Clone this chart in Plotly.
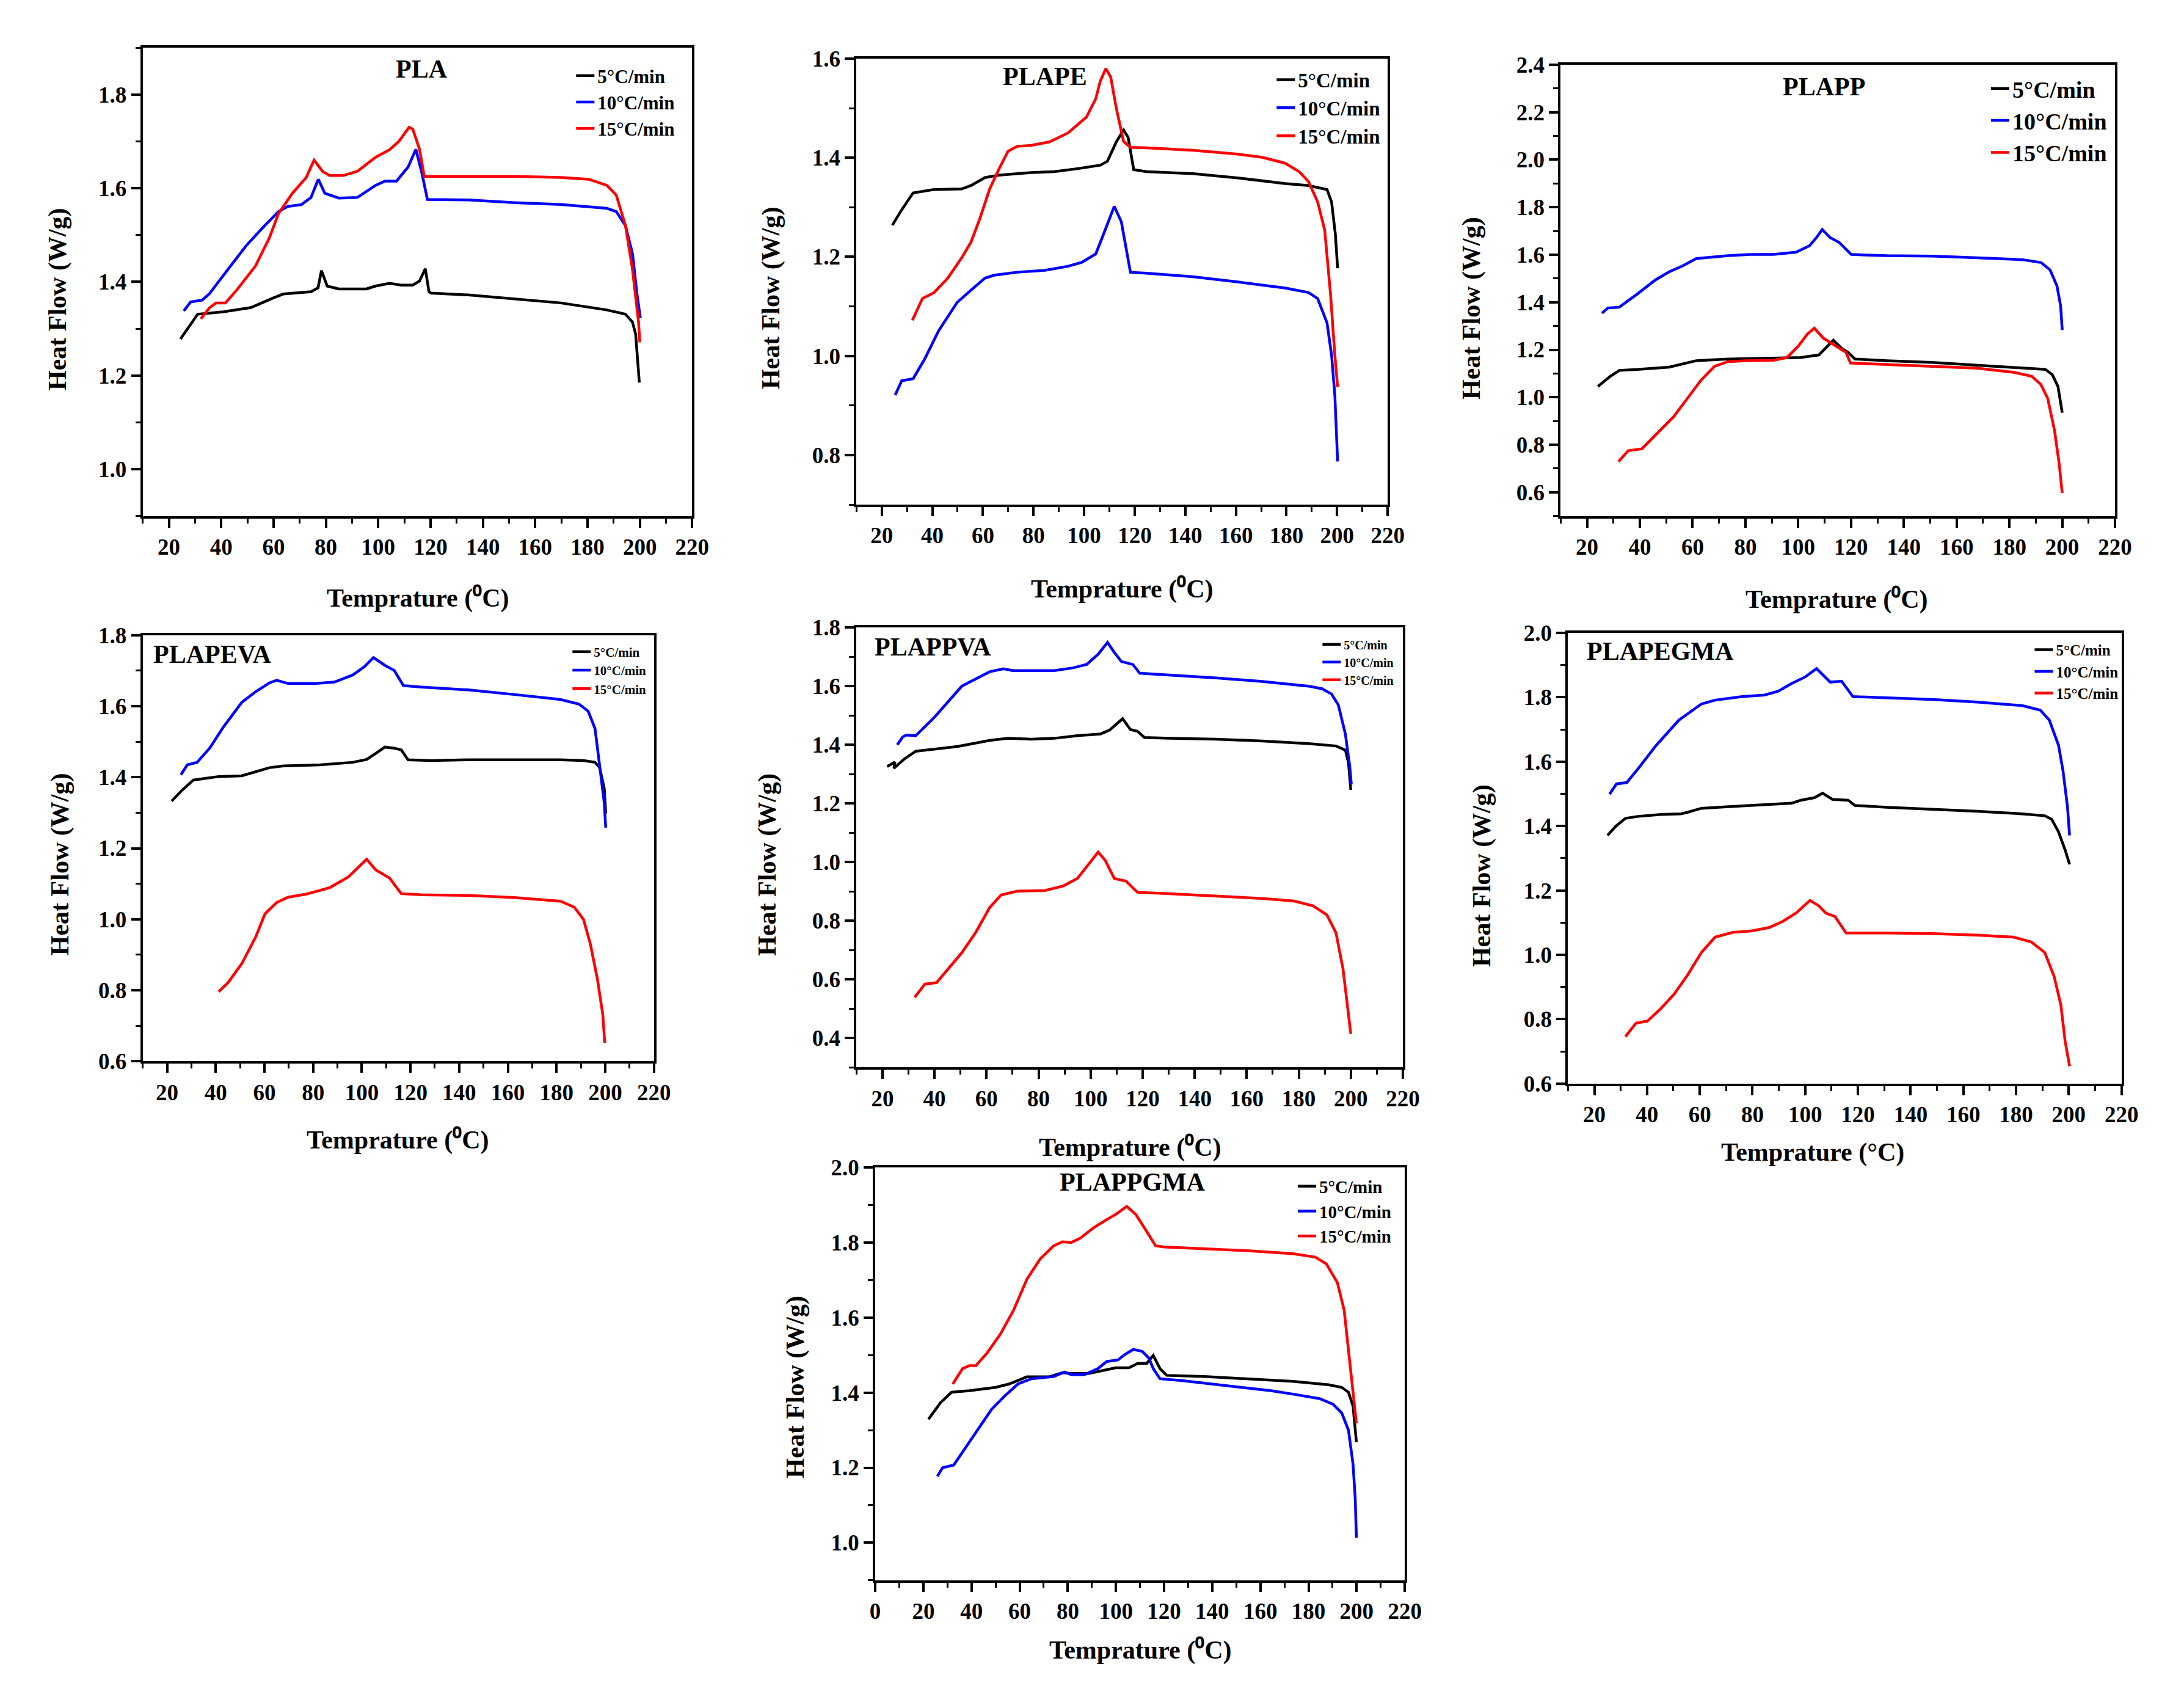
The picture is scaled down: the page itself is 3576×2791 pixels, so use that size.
import plotly.graph_objects as go

FONT = "Liberation Serif"
RATE_LABELS = ["5°C/min", "10°C/min", "15°C/min"]
COLORS = ["#000000", "#0000FF", "#FF0000"]

# ---------------- PLA ----------------
pla_5_t = [24.4, 31, 40.7, 51.3, 60.1, 63.7, 74.3, 77, 78.3, 80.5, 84.9, 95.5, 99, 104.3, 108.8, 113.2, 115.8, 118, 119.4, 120.2, 134.4, 152, 169.8, 187.4, 194.5, 197.2, 198.4, 199.8]
pla_5_hf = [1.278, 1.331, 1.336, 1.345, 1.366, 1.374, 1.379, 1.387, 1.424, 1.391, 1.385, 1.385, 1.391, 1.397, 1.393, 1.393, 1.402, 1.428, 1.379, 1.376, 1.372, 1.364, 1.355, 1.34, 1.331, 1.314, 1.288, 1.185]
pla_10_t = [25.7, 28.3, 32.7, 35.4, 42.5, 49.5, 56.6, 61.9, 65.4, 70.7, 74.3, 77.1, 79.6, 84.9, 92, 99, 102.6, 107, 111.4, 114.4, 116.7, 118.8, 134.4, 152.1, 169.8, 187.4, 191, 194.5, 197.2, 198.9, 200.2]
pla_10_hf = [1.338, 1.357, 1.361, 1.374, 1.426, 1.477, 1.52, 1.55, 1.561, 1.565, 1.58, 1.619, 1.589, 1.579, 1.58, 1.606, 1.615, 1.615, 1.645, 1.683, 1.632, 1.576, 1.575, 1.569, 1.565, 1.557, 1.55, 1.52, 1.46, 1.374, 1.323]
pla_15_t = [32.2, 35.4, 38, 41.6, 46, 53.1, 58.4, 61.9, 67.2, 72.5, 75.5, 78.7, 81.4, 86.7, 92, 99, 104.3, 107.9, 111.8, 113.2, 115.8, 117.6, 134.4, 152, 169.8, 180.4, 187.4, 191, 194.5, 197.2, 199.5, 200]
pla_15_hf = [1.321, 1.344, 1.355, 1.355, 1.383, 1.434, 1.494, 1.546, 1.589, 1.623, 1.66, 1.636, 1.627, 1.627, 1.636, 1.666, 1.682, 1.7, 1.73, 1.726, 1.683, 1.625, 1.625, 1.625, 1.623, 1.619, 1.606, 1.585, 1.52, 1.426, 1.314, 1.271]

# ---------------- PLAPE ----------------
pe_5_t = [24.2, 27.9, 32.4, 40.7, 51.6, 55.3, 60.8, 66.2, 79, 88.2, 97.3, 106.4, 109.2, 112.8, 115.6, 117.4, 119.6, 124.7, 143, 161.3, 179.5, 188.7, 196, 197.8, 199.3, 200.2]
pe_5_hf = [1.264, 1.295, 1.329, 1.336, 1.337, 1.344, 1.36, 1.365, 1.37, 1.372, 1.378, 1.385, 1.393, 1.433, 1.456, 1.441, 1.376, 1.372, 1.368, 1.359, 1.348, 1.344, 1.336, 1.311, 1.246, 1.177]
pe_10_t = [25.3, 27.9, 32.4, 37, 42.5, 49.8, 55.3, 60.8, 64.4, 73.5, 84.5, 93.6, 99.1, 104.6, 108.3, 111.9, 114.7, 118.3, 124.7, 143, 161.3, 179.5, 188.7, 192.3, 196, 197.8, 199.1, 200.2]
pe_10_hf = [0.921, 0.95, 0.954, 0.994, 1.051, 1.108, 1.133, 1.157, 1.163, 1.169, 1.173, 1.181, 1.189, 1.206, 1.254, 1.302, 1.271, 1.169, 1.167, 1.16, 1.149, 1.137, 1.128, 1.116, 1.067, 1.002, 0.921, 0.787]
pe_15_t = [32.1, 36.1, 40.7, 46.1, 51.6, 55.3, 58.9, 62.6, 66.2, 69.9, 73.5, 79, 86.3, 93.6, 100.9, 104.6, 106.4, 108.6, 110.5, 112.8, 115.6, 118.3, 124.7, 143, 161.3, 170.4, 179.5, 185, 188.7, 192.3, 195.1, 197.4, 199.1, 200.2]
pe_15_hf = [1.072, 1.116, 1.128, 1.157, 1.198, 1.23, 1.279, 1.336, 1.376, 1.413, 1.423, 1.425, 1.432, 1.45, 1.482, 1.519, 1.555, 1.58, 1.563, 1.498, 1.433, 1.421, 1.42, 1.415, 1.407, 1.401, 1.389, 1.372, 1.352, 1.311, 1.254, 1.124, 1.002, 0.937]

# ---------------- PLAPP ----------------
pp_5_t = [24.1, 28.8, 32.2, 39.1, 51.1, 56.2, 61.4, 73.4, 90.6, 100.9, 107.8, 111.2, 113.3, 116.4, 118.9, 121.5, 133.5, 150.7, 167.9, 185.1, 193.6, 196.2, 198.4, 200]
pp_5_hf = [1.045, 1.088, 1.113, 1.117, 1.127, 1.139, 1.154, 1.161, 1.164, 1.167, 1.178, 1.215, 1.24, 1.206, 1.189, 1.161, 1.154, 1.147, 1.134, 1.122, 1.117, 1.096, 1.045, 0.935]
pp_10_t = [25.7, 27.9, 32.2, 39.1, 45.9, 51.1, 56.2, 61.4, 73.4, 82, 90.6, 99.2, 104.3, 106.9, 109.1, 112.1, 115.5, 118.1, 120.1, 133.5, 150.7, 167.9, 185.1, 192, 195.4, 198, 199.4, 200]
pp_10_hf = [1.354, 1.376, 1.379, 1.435, 1.494, 1.528, 1.553, 1.584, 1.596, 1.601, 1.601, 1.611, 1.638, 1.672, 1.706, 1.672, 1.652, 1.621, 1.601, 1.596, 1.594, 1.587, 1.579, 1.567, 1.536, 1.469, 1.384, 1.283]
pp_15_t = [31.9, 35.6, 40.8, 45.9, 52.8, 58, 63.1, 68.3, 73.4, 80.3, 90.6, 95.7, 100, 103.5, 106.1, 109.5, 114.6, 118.1, 119.8, 133.5, 150.7, 167.9, 181.6, 188.5, 191.9, 194.5, 197.1, 198.8, 200]
pp_15_hf = [0.729, 0.775, 0.783, 0.842, 0.918, 0.995, 1.071, 1.13, 1.15, 1.154, 1.156, 1.167, 1.215, 1.266, 1.291, 1.249, 1.215, 1.189, 1.144, 1.137, 1.13, 1.122, 1.105, 1.088, 1.054, 0.995, 0.859, 0.724, 0.597]

# ---------------- PLAPEVA ----------------
peva_5_t = [21.9, 26.1, 30.8, 35.6, 41.2, 50.7, 54.5, 62.1, 67.8, 83, 96.3, 102, 105.7, 109.5, 113.3, 116.2, 119, 128.5, 143.7, 162.6, 181.6, 191.1, 195.8, 197.7, 199.6, 200.2]
peva_5_hf = [1.333, 1.363, 1.392, 1.397, 1.402, 1.404, 1.412, 1.427, 1.432, 1.435, 1.442, 1.45, 1.467, 1.485, 1.482, 1.477, 1.449, 1.447, 1.449, 1.449, 1.449, 1.447, 1.442, 1.427, 1.368, 1.298]
peva_10_t = [25.7, 28.3, 32.3, 37.5, 43.1, 50.7, 56.4, 62.1, 65, 69.7, 81.1, 88.7, 96.3, 101, 104.8, 109.5, 113.3, 117.1, 124.7, 143.7, 162.6, 181.6, 189.2, 193, 195.8, 197.7, 199.6, 200.2]
peva_10_hf = [1.407, 1.435, 1.442, 1.482, 1.541, 1.611, 1.641, 1.666, 1.673, 1.664, 1.664, 1.668, 1.688, 1.711, 1.737, 1.715, 1.701, 1.658, 1.654, 1.646, 1.633, 1.619, 1.606, 1.586, 1.537, 1.427, 1.328, 1.258]
peva_15_t = [41.2, 45, 50.7, 56.4, 60.2, 65, 69.7, 77.3, 86.8, 94.4, 102, 105.7, 111.4, 116.2, 124.7, 143.7, 162.6, 181.6, 187.3, 191.1, 193.9, 196.8, 199, 199.8]
peva_15_hf = [0.796, 0.821, 0.875, 0.95, 1.015, 1.047, 1.062, 1.071, 1.089, 1.119, 1.169, 1.139, 1.116, 1.072, 1.069, 1.067, 1.061, 1.051, 1.034, 0.999, 0.93, 0.831, 0.731, 0.652]

# ---------------- PLAPPVA ----------------
ppva_5_t = [21.8, 24.8, 24.4, 28.3, 32.8, 39.9, 48.8, 54.1, 61.2, 68.3, 77.2, 86, 94.9, 103.8, 107.3, 112.3, 115.3, 118, 120.7, 130.4, 148.2, 165.9, 183.7, 194.3, 197.9, 199.1, 200]
ppva_5_hf = [1.326, 1.341, 1.32, 1.351, 1.378, 1.385, 1.394, 1.403, 1.415, 1.422, 1.419, 1.422, 1.431, 1.437, 1.45, 1.489, 1.452, 1.446, 1.425, 1.422, 1.419, 1.413, 1.404, 1.396, 1.382, 1.339, 1.246]
ppva_10_t = [25.7, 27.8, 29.2, 32.8, 39.9, 45.2, 50.5, 55.9, 61.2, 66.5, 70.1, 86, 93.1, 98.5, 102.9, 106.5, 109.1, 111.8, 116.2, 118.9, 130.4, 148.2, 165.9, 183.7, 189, 192.6, 195.2, 197.9, 199.6, 200.2]
ppva_10_hf = [1.4, 1.427, 1.433, 1.431, 1.493, 1.548, 1.6, 1.625, 1.649, 1.659, 1.653, 1.653, 1.662, 1.674, 1.709, 1.749, 1.715, 1.684, 1.674, 1.644, 1.638, 1.628, 1.616, 1.6, 1.591, 1.573, 1.536, 1.437, 1.326, 1.265]
ppva_15_t = [32.4, 36.3, 40.8, 45.2, 50.5, 55.9, 61.2, 65.6, 71.8, 82.5, 89.6, 94.9, 99.4, 102.9, 105.6, 109.1, 113.6, 118, 130.4, 148.2, 165.9, 178.3, 185.5, 190.8, 194.3, 197, 198.8, 200]
ppva_15_hf = [0.539, 0.584, 0.589, 0.636, 0.691, 0.761, 0.845, 0.888, 0.901, 0.903, 0.919, 0.944, 0.993, 1.034, 1.006, 0.944, 0.935, 0.897, 0.892, 0.885, 0.876, 0.867, 0.851, 0.82, 0.759, 0.636, 0.512, 0.414]

# ---------------- PLAPEGMA ----------------
pegma_5_t = [25, 28.1, 31.8, 36.6, 45.2, 52.9, 55.5, 60.6, 70.9, 84.6, 94.9, 98.3, 103.5, 106.6, 110.3, 116.3, 118.9, 130.9, 148.1, 165.2, 182.3, 190.9, 193.5, 196.1, 198.6, 200.3]
pegma_5_hf = [1.371, 1.399, 1.424, 1.43, 1.436, 1.438, 1.443, 1.455, 1.46, 1.466, 1.471, 1.48, 1.488, 1.502, 1.483, 1.48, 1.464, 1.458, 1.453, 1.446, 1.438, 1.432, 1.421, 1.382, 1.326, 1.281]
pegma_10_t = [25.8, 28.4, 32.3, 36.6, 43.5, 52.1, 60.6, 65.8, 76.1, 84.6, 89.8, 94.9, 100, 104.3, 109.5, 113.8, 118.1, 130.9, 148.1, 165.2, 182.3, 189.2, 192.6, 196.1, 197.8, 199.5, 200.3]
pegma_10_hf = [1.499, 1.531, 1.535, 1.578, 1.651, 1.729, 1.779, 1.791, 1.802, 1.807, 1.819, 1.843, 1.863, 1.889, 1.847, 1.85, 1.802, 1.798, 1.793, 1.785, 1.774, 1.76, 1.729, 1.651, 1.572, 1.46, 1.371]
pegma_15_t = [31.8, 35.8, 40.1, 45.2, 50.3, 55.5, 60.6, 65.8, 72.6, 79.5, 86.4, 91.5, 96.6, 101.8, 105.2, 107.8, 111.3, 115.5, 130.9, 148.1, 165.2, 179, 185.8, 190.9, 194.4, 197, 198.6, 200.3]
pegma_15_hf = [0.746, 0.788, 0.794, 0.833, 0.878, 0.939, 1.007, 1.055, 1.07, 1.074, 1.085, 1.104, 1.13, 1.169, 1.152, 1.13, 1.119, 1.068, 1.068, 1.066, 1.061, 1.055, 1.04, 1.007, 0.934, 0.844, 0.732, 0.654]

# ---------------- PLAPPGMA ----------------
ppgma_5_t = [22.1, 27.1, 31.7, 39.1, 50.1, 55.6, 63, 72.2, 77.8, 81.4, 88.8, 96.2, 99.9, 105.4, 109.1, 112.8, 115.5, 118.3, 121.1, 136.7, 155.2, 173.6, 188.3, 193.8, 196.6, 198.5, 199.9]
ppgma_5_hf = [1.329, 1.373, 1.401, 1.405, 1.414, 1.423, 1.442, 1.442, 1.453, 1.451, 1.451, 1.46, 1.466, 1.466, 1.478, 1.478, 1.499, 1.464, 1.446, 1.443, 1.437, 1.43, 1.421, 1.414, 1.401, 1.364, 1.268]
ppgma_10_t = [25.8, 28, 32.6, 37.2, 42.7, 48.3, 53.8, 59.3, 64.9, 74.1, 78.7, 81.4, 86.9, 92.5, 96.2, 100.8, 103.6, 107.2, 110.9, 113.7, 115.5, 118.3, 127.5, 145.9, 164.4, 173.6, 184.6, 190.2, 193.8, 196.6, 198.5, 199.4, 199.9]
ppgma_10_hf = [1.177, 1.2, 1.207, 1.25, 1.3, 1.355, 1.391, 1.423, 1.437, 1.443, 1.455, 1.448, 1.448, 1.464, 1.483, 1.487, 1.501, 1.515, 1.51, 1.492, 1.464, 1.437, 1.432, 1.419, 1.405, 1.396, 1.384, 1.369, 1.346, 1.3, 1.209, 1.118, 1.013]
ppgma_15_t = [32.2, 36.3, 39.1, 41.8, 46.4, 52, 57.5, 63, 68.5, 74.1, 77.8, 81.4, 85.1, 90.7, 96.2, 99.9, 104.5, 108.2, 112.8, 116.5, 120.1, 136.7, 155.2, 173.6, 182.8, 187.4, 192, 194.8, 196.6, 198.5, 199.9]
ppgma_15_hf = [1.423, 1.464, 1.472, 1.472, 1.505, 1.556, 1.62, 1.702, 1.756, 1.791, 1.802, 1.8, 1.811, 1.839, 1.861, 1.875, 1.896, 1.875, 1.829, 1.791, 1.788, 1.784, 1.778, 1.77, 1.761, 1.743, 1.693, 1.62, 1.519, 1.41, 1.318]

X_TITLE_0 = "Temprature (⁰C)"
X_TITLE_O = "Temprature (°C)"
Y_TITLE = "Heat Flow (W/g)"

panels = [
    dict(name="PLA", series=[(pla_5_t, pla_5_hf), (pla_10_t, pla_10_hf), (pla_15_t, pla_15_hf)],
         xdom=[0.0635, 0.3177], ydom=[0.7001, 0.9789], xr=[10, 220], yr=[0.9, 1.9],
         tpos=(0.508, 0.955, "center"), leg=(0.2626, 0.972, 31, 5), xt=(0.5, -0.176, X_TITLE_0), yt=(-0.155, 0.463)),
    dict(name="PLAPE", series=[(pe_5_t, pe_5_hf), (pe_10_t, pe_10_hf), (pe_15_t, pe_15_hf)],
         xdom=[0.3937, 0.6395], ydom=[0.7069, 0.9724], xr=[10, 220], yr=[0.7, 1.6002],
         tpos=(0.355, 0.96, "center"), leg=(0.5867, 0.970, 33, 4), xt=(0.5, -0.189, X_TITLE_0), yt=(-0.16, 0.463)),
    dict(name="PLAPP", series=[(pp_5_t, pp_5_hf), (pp_10_t, pp_10_hf), (pp_15_t, pp_15_hf)],
         xdom=[0.7195, 0.9760], ydom=[0.7001, 0.9688], xr=[10, 220], yr=[0.5, 2.4002],
         tpos=(0.475, 0.951, "center"), leg=(0.9172, 0.966, 38, 7), xt=(0.498, -0.185, X_TITLE_0), yt=(-0.16, 0.46)),
    dict(name="PLAPEVA", series=[(peva_5_t, peva_5_hf), (peva_10_t, peva_10_hf), (peva_15_t, peva_15_hf)],
         xdom=[0.0635, 0.3000], ydom=[0.3755, 0.6292], xr=[10, 220], yr=[0.5998, 1.8002],
         tpos=(0.018, 0.955, "left"), leg=(0.2609, 0.6267, 21, 2), xt=(0.499, -0.185, X_TITLE_0), yt=(-0.162, 0.462)),
    dict(name="PLAPPVA", series=[(ppva_5_t, ppva_5_hf), (ppva_10_t, ppva_10_hf), (ppva_15_t, ppva_15_hf)],
         xdom=[0.3937, 0.6465], ydom=[0.3719, 0.6338], xr=[10, 220], yr=[0.3, 1.8002],
         tpos=(0.031, 0.956, "left"), leg=(0.6079, 0.6308, 20, 0), xt=(0.5, -0.182, X_TITLE_0), yt=(-0.163, 0.461)),
    dict(name="PLAPEGMA", series=[(pegma_5_t, pegma_5_hf), (pegma_10_t, pegma_10_hf), (pegma_15_t, pegma_15_hf)],
         xdom=[0.7229, 0.9790], ydom=[0.3622, 0.6306], xr=[10, 220], yr=[0.5998, 2.0002],
         tpos=(0.032, 0.959, "left"), leg=(0.9374, 0.6288, 25, 1), xt=(0.442, -0.152, X_TITLE_O), yt=(-0.155, 0.462)),
    dict(name="PLAPPGMA", series=[(ppgma_5_t, ppgma_5_hf), (ppgma_10_t, ppgma_10_hf), (ppgma_15_t, ppgma_15_hf)],
         xdom=[0.4024, 0.6474], ydom=[0.0666, 0.3124], xr=[0, 220], yr=[0.9, 2.0002],
         tpos=(0.486, 0.964, "center"), leg=(0.5965, 0.3104, 29, 0), xt=(0.5, -0.169, X_TITLE_0), yt=(-0.151, 0.468)),
]

fig = go.Figure()
layout_updates = {}
annotations = []

for i, p in enumerate(panels, start=1):
    sfx = "" if i == 1 else str(i)
    legname = "legend" + sfx
    for k, ((t, hf), lab, col) in enumerate(zip(p["series"], RATE_LABELS, COLORS)):
        fig.add_trace(go.Scatter(
            x=t, y=hf, mode="lines", name=lab,
            line=dict(color=col, width=4.5),
            xaxis="x" + sfx, yaxis="y" + sfx, legend=legname,
            legendgroup=f"{p['name']}_{k}", showlegend=True,
        ))
    tickfont = dict(family=FONT, size=37, color="black", weight="bold")
    layout_updates["xaxis" + sfx] = dict(
        domain=p["xdom"], range=p["xr"], anchor="y" + sfx,
        tickmode="linear", tick0=0, dtick=20,
        ticks="outside", ticklen=15, tickwidth=4, tickcolor="black",
        minor=dict(ticks="outside", tick0=0, dtick=10, ticklen=8, tickwidth=3, tickcolor="black"),
        showline=True, linewidth=4, linecolor="black", mirror=True,
        showgrid=False, zeroline=False, tickfont=tickfont,
    )
    layout_updates["yaxis" + sfx] = dict(
        domain=p["ydom"], range=p["yr"], anchor="x" + sfx,
        tickmode="linear", tick0=0, dtick=0.2, tickformat=".1f",
        ticks="outside", ticklen=15, tickwidth=4, tickcolor="black",
        minor=dict(ticks="outside", tick0=0, dtick=0.1, ticklen=8, tickwidth=3, tickcolor="black"),
        showline=True, linewidth=4, linecolor="black", mirror=True,
        showgrid=False, zeroline=False, tickfont=tickfont,
    )
    lx, ly, lsize, lgap = p["leg"]
    layout_updates[legname] = dict(
        x=lx, y=ly, xanchor="left", yanchor="top",
        bgcolor="rgba(0,0,0,0)", borderwidth=0,
        font=dict(family=FONT, size=lsize, color="black", weight="bold"),
        traceorder="normal", tracegroupgap=lgap,
    )
    xref = "x" + sfx + " domain"
    yref = "y" + sfx + " domain"
    tx, ty, talign = p["tpos"]
    annotations.append(dict(
        text=p["name"], xref=xref, yref=yref, x=tx, y=ty,
        xanchor=talign, yanchor="middle", showarrow=False,
        font=dict(family=FONT, size=42, color="black", weight="bold"),
    ))
    xtx, xty, xtext = p["xt"]
    annotations.append(dict(
        text=xtext, xref=xref, yref=yref, x=xtx, y=xty,
        xanchor="center", yanchor="middle", showarrow=False,
        font=dict(family=FONT, size=42, color="black", weight="bold"),
    ))
    ytx, yty = p["yt"]
    annotations.append(dict(
        text=Y_TITLE, xref=xref, yref=yref, x=ytx, y=yty, textangle=-90,
        xanchor="center", yanchor="middle", showarrow=False,
        font=dict(family=FONT, size=42, color="black", weight="bold"),
    ))

fig.update_layout(
    width=3576, height=2791,
    margin=dict(l=0, r=0, t=0, b=0),
    paper_bgcolor="white", plot_bgcolor="white",
    font=dict(family=FONT, color="black"),
    annotations=annotations,
    **layout_updates,
)

fig.write_html(
    "out.html",
    config={"displayModeBar": False},
    post_script="document.documentElement.style.margin='0';document.body.style.margin='0';document.body.style.overflow='hidden';",
)
